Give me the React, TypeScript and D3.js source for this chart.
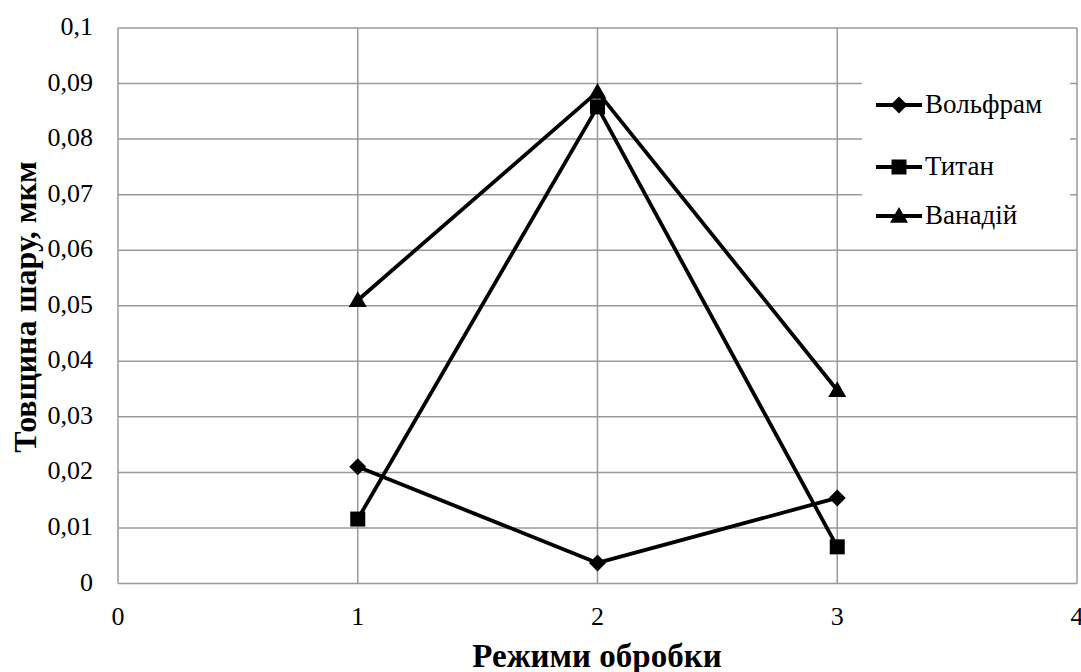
import React from "react";
import * as d3 from "d3";

const categories = [1, 2, 3];
const wolfram = [0.021, 0.0037, 0.0154];
const titan = [0.0116, 0.0858, 0.0066];
const vanadium = [0.051, 0.0885, 0.0348];
const seriesNames = ["Вольфрам", "Титан", "Ванадій"];
const xTicks = [0, 1, 2, 3, 4];
const yTicks = [0, 0.01, 0.02, 0.03, 0.04, 0.05, 0.06, 0.07, 0.08, 0.09, 0.1];

const W = 1081, H = 672;
const L = 118, R = 1077, T = 28, B = 583.5;
const FONT = "'Liberation Serif', 'Times New Roman', serif";

function Marker({ type, x, y }: { type: string; x: number; y: number }) {
  if (type === "diamond") {
    const s = 8.5;
    return <path d={`M${x},${y - s}L${x + s},${y}L${x},${y + s}L${x - s},${y}Z`} fill="#000" />;
  }
  if (type === "square") {
    const s = 7.5;
    return <rect x={x - s} y={y - s} width={2 * s} height={2 * s} fill="#000" />;
  }
  const s = 9;
  return <path d={`M${x},${y - s}L${x + s},${y + s * 0.75}L${x - s},${y + s * 0.75}Z`} fill="#000" />;
}

export default function App() {
  const x = d3.scaleLinear().domain([0, 4]).range([L, R]);
  const y = d3.scaleLinear().domain([0, 0.1]).range([B, T]);
  const fmt = (v: number) => (v === 0 ? "0" : String(+v.toFixed(2)).replace(".", ","));
  const line = d3.line<[number, number]>().x((d) => x(d[0])).y((d) => y(d[1]));
  const series = [
    { name: seriesNames[0], values: wolfram, marker: "diamond" },
    { name: seriesNames[1], values: titan, marker: "square" },
    { name: seriesNames[2], values: vanadium, marker: "triangle" },
  ];
  const legendY = [105, 167, 216];
  return (
    <svg width={W} height={H} style={{ position: "absolute", left: 0, top: 0, background: "#fff" }}>
      <rect x={0} y={0} width={W} height={H} fill="#fff" />
      {yTicks.map((t) => (
        <line key={"h" + t} x1={L} x2={R} y1={y(t)} y2={y(t)} stroke="#999" strokeWidth={1.5} />
      ))}
      {xTicks.map((t) => (
        <line key={"v" + t} x1={x(t)} x2={x(t)} y1={T} y2={B} stroke="#999" strokeWidth={1.5} />
      ))}
      {yTicks.map((t) => (
        <text key={"yl" + t} x={93} y={y(t) + 7} textAnchor="end" fontFamily={FONT} fontSize={26} fill="#000">
          {fmt(t)}
        </text>
      ))}
      {xTicks.map((t) => (
        <text key={"xl" + t} x={x(t)} y={625} textAnchor="middle" fontFamily={FONT} fontSize={26} fill="#000">
          {t}
        </text>
      ))}
      <text x={597} y={667} textAnchor="middle" fontFamily={FONT} fontSize={33} fontWeight="bold" fill="#000">
        Режими обробки
      </text>
      <text
        transform={`translate(36,307) rotate(-90)`}
        textAnchor="middle"
        fontFamily={FONT}
        fontSize={32}
        fontWeight="bold"
        fill="#000"
      >
        Товщина шару, мкм
      </text>
      {series.map((s) => (
        <g key={s.name}>
          <path
            d={line(categories.map((c, i) => [c, s.values[i]] as [number, number])) || ""}
            fill="none"
            stroke="#000"
            strokeWidth={3.8}
            strokeLinejoin="round"
          />
          {categories.map((c, i) => (
            <Marker key={i} type={s.marker} x={x(c)} y={y(s.values[i])} />
          ))}
        </g>
      ))}
      <rect x={862} y={62} width={208} height={175} fill="#fff" />
      {series.map((s, i) => (
        <g key={"lg" + s.name}>
          <line x1={876} x2={922} y1={legendY[i]} y2={legendY[i]} stroke="#000" strokeWidth={3.8} />
          <Marker type={s.marker} x={899} y={legendY[i]} />
          <text x={925} y={legendY[i] + 8} fontFamily={FONT} fontSize={27} fill="#000">
            {s.name}
          </text>
        </g>
      ))}
    </svg>
  );
}
